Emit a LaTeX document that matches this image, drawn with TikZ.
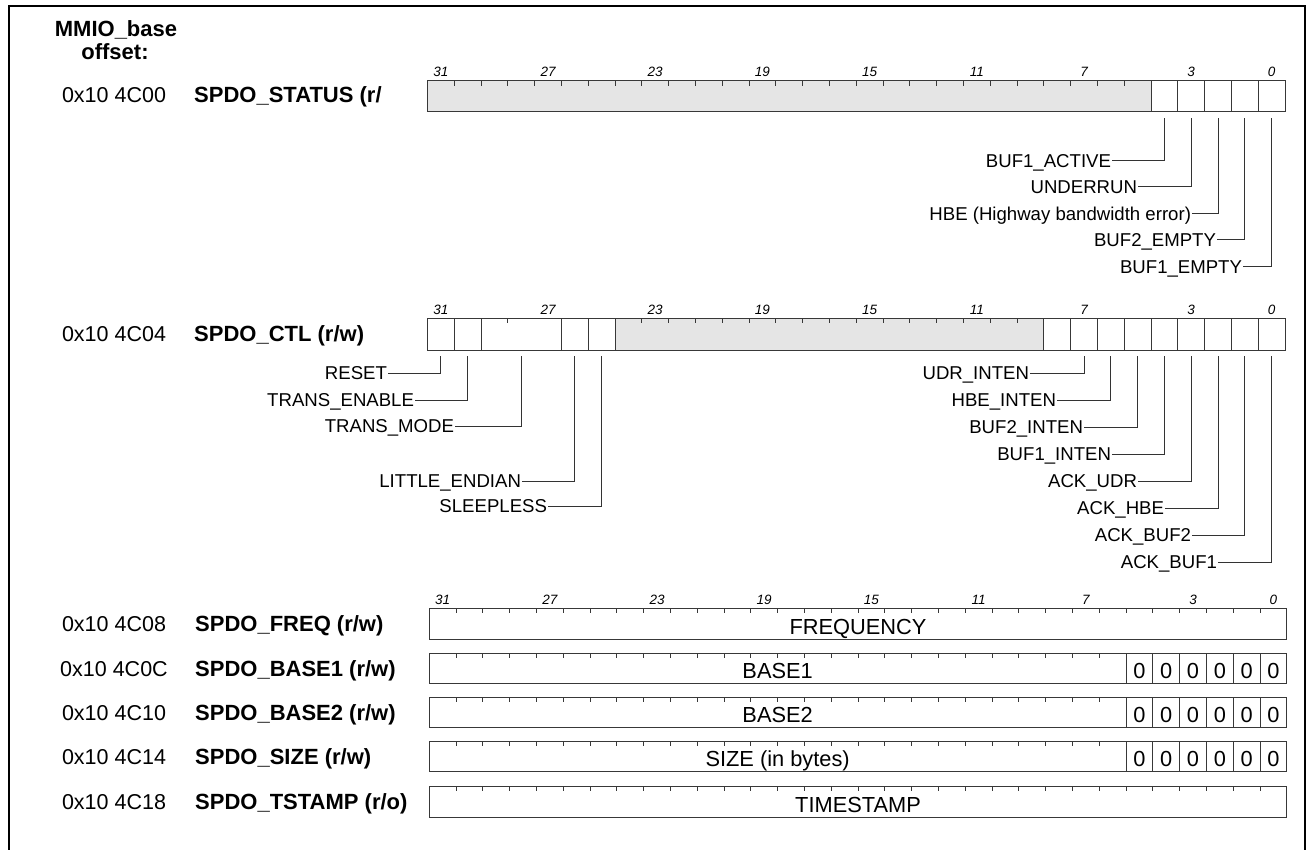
\documentclass[tikz,border=0pt]{standalone}
\usepackage{fontspec}
\setmainfont{Liberation Sans}
\begin{document}
\begin{tikzpicture}[x=1pt,y=-1pt,
  frame/.style={draw=black, line width=1.5pt},
  regbox/.style={draw=black!78, line width=1pt},
  sep/.style={draw=black!78, line width=0.9pt},
  tick/.style={draw=black!78, line width=0.9pt},
  lead/.style={draw=black!80, line width=1pt},
  grayfill/.style={fill=black!10},
  fld/.style={font=\fontsize{18.6}{20}\selectfont, inner sep=0pt, outer sep=1pt, text height=13.3pt, text depth=0pt, anchor=east},
  bitno/.style={font=\fontsize{13.5}{14}\selectfont\itshape, inner sep=0pt, anchor=base},
  addr/.style={font=\fontsize{21.5}{23}\selectfont, inner sep=0pt, text height=15.4pt, text depth=0pt},
  rname/.style={font=\fontsize{22}{24}\selectfont\bfseries, inner sep=0pt, text height=15.75pt, text depth=0pt, anchor=west},
  val/.style={font=\fontsize{21.8}{23}\selectfont, inner sep=0pt, text height=15.6pt, text depth=0pt},
  hdr/.style={font=\fontsize{22}{24}\selectfont\bfseries, inner sep=0pt, anchor=base}
]
\useasboundingbox (0,0) rectangle (1311,850);
% outer frame (open at bottom)
\draw[frame] (9,850) -- (9,6) -- (1305,6) -- (1305,850);

% header
\node[hdr] (h1) at (116,37) {MMIO\_base};
\node[hdr] (h2) at (115,60) {offset:};

% ---------------- SPDO_STATUS ----------------
\node[addr] (a0) at (114,95) {0x10 4C00};
\node[rname] (r0) at (194,95) {SPDO\_STATUS (r/};
\fill[grayfill] (427.4,81) rectangle (1151,112);
\foreach \b in {6,...,31} \draw[tick] ({1285-\b*26.8},81) -- ++(0,5);
\foreach \b in {1,...,5} \draw[sep] ({1285-\b*26.8},81) -- ++(0,31);
\draw[regbox] (427.4,81) rectangle (1285,112);
\foreach \b in {31,27,23,19,15,11,7,3,0}
  \node[bitno] (sn\b) at ({1285-(\b+0.5)*26.8},77) {\b};
\foreach \b in {0,...,4}
  \coordinate (s\b) at ({1285-(\b+0.5)*26.8},118);
\node[fld] (sl4) at (1112,161) {BUF1\_ACTIVE};
\node[fld] (sl3) at (1138,187) {UNDERRUN};
\node[fld] (sl2) at (1192,214) {HBE (Highway bandwidth error)};
\node[fld] (sl1) at (1217,240) {BUF2\_EMPTY};
\node[fld] (sl0) at (1243,267) {BUF1\_EMPTY};
\foreach \b in {0,...,4} \draw[lead] (sl\b.east) -| (s\b);

% ---------------- SPDO_CTL ----------------
\node[addr] (a1) at (114,334) {0x10 4C04};
\node[rname] (r1) at (194,334) {SPDO\_CTL (r/w)};
\fill[grayfill] (615,318) rectangle (1043.8,350);
\foreach \b in {10,...,24,29} \draw[tick] ({1285-\b*26.8},318) -- ++(0,5);
\foreach \b in {1,...,9,25,26,27,30,31} \draw[sep] ({1285-\b*26.8},318) -- ++(0,32);
\draw[regbox] (427.4,318) rectangle (1285,350);
\foreach \b in {31,27,23,19,15,11,7,3,0}
  \node[bitno] (cn\b) at ({1285-(\b+0.5)*26.8},314) {\b};
\foreach \b in {0,...,7,25,26,30,31}
  \coordinate (c\b) at ({1285-(\b+0.5)*26.8},356);
\coordinate (cm) at ({1285-28.5*26.8},356);
% left labels
\node[fld] (cl31) at (388,373) {RESET};
\node[fld] (cl30) at (415,400) {TRANS\_ENABLE};
\node[fld] (clm) at (455,426) {TRANS\_MODE};
\node[fld] (cl26) at (522,481) {LITTLE\_ENDIAN};
\node[fld] (cl25) at (548,506) {SLEEPLESS};
\draw[lead] (cl31.east) -| (c31);
\draw[lead] (cl30.east) -| (c30);
\draw[lead] (clm.east) -| (cm);
\draw[lead] (cl26.east) -| (c26);
\draw[lead] (cl25.east) -| (c25);
% right labels
\node[fld] (cl7) at (1030,373) {UDR\_INTEN};
\node[fld] (cl6) at (1057,400) {HBE\_INTEN};
\node[fld] (cl5) at (1084,427) {BUF2\_INTEN};
\node[fld] (cl4) at (1112,454) {BUF1\_INTEN};
\node[fld] (cl3) at (1138,481) {ACK\_UDR};
\node[fld] (cl2) at (1165,508) {ACK\_HBE};
\node[fld] (cl1) at (1192,535) {ACK\_BUF2};
\node[fld] (cl0) at (1218,562) {ACK\_BUF1};
\foreach \b in {0,...,7} \draw[lead] (cl\b.east) -| (c\b);

% ---------------- bottom registers ----------------
\def\sh{1.8}
% FREQ
\node[addr] (a2) at (114,623.5) {0x10 4C08};
\node[rname] (r2) at (195,623.5) {SPDO\_FREQ (r/w)};
\foreach \b in {1,...,31} \draw[tick] ({1285+\sh-\b*26.8},608) -- ++(0,5);
\draw[regbox] (427.4+\sh,608) rectangle (1285+\sh,639);
\foreach \b in {31,27,23,19,15,11,7,3,0}
  \node[bitno] (fn\b) at ({1285+\sh-(\b+0.5)*26.8},604.5) {\b};
\node[val] (v2) at ({(427.4+1285)/2+\sh},627) {FREQUENCY};

% BASE1, BASE2, SIZE
\foreach \top/\ad/\nm/\vl/\id in {653/0x10 4C0C/SPDO\_BASE1 (r\slash w)/BASE1/3,
                                   697/0x10 4C10/SPDO\_BASE2 (r\slash w)/BASE2/4,
                                   741/0x10 4C14/SPDO\_SIZE (r\slash w)/SIZE (in bytes)/5}{
  \node[addr] (a\id) at (114,\top+15.5) {\ad};
  \node[rname] (r\id) at (195,\top+15.5) {\nm};
  \foreach \b in {7,...,31} \draw[tick] ({1285+\sh-\b*26.8},\top) -- ++(0,5);
  \foreach \b in {1,...,6} \draw[sep] ({1285+\sh-\b*26.8},\top) -- ++(0,30.5);
  \draw[regbox] (427.4+\sh,\top) rectangle (1285+\sh,\top+30.5);
  \foreach \b in {0,...,5}
    \node[val] (z\id-\b) at ({1285+\sh-(\b+0.5)*26.8},\top+18) {0};
  \node[val] (v\id) at ({(427.4+1285-6*26.8)/2+\sh},\top+18) {\vl};
}

% TSTAMP
\node[addr] (a6) at (114,801.5) {0x10 4C18};
\node[rname] (r6) at (195,801.5) {SPDO\_TSTAMP (r/o)};
\foreach \b in {1,...,31} \draw[tick] ({1285+\sh-\b*26.8},786) -- ++(0,5);
\draw[regbox] (427.4+\sh,786) rectangle (1285+\sh,817);
\node[val] (v6) at ({(427.4+1285)/2+\sh},805) {TIMESTAMP};
\end{tikzpicture}
\end{document}
